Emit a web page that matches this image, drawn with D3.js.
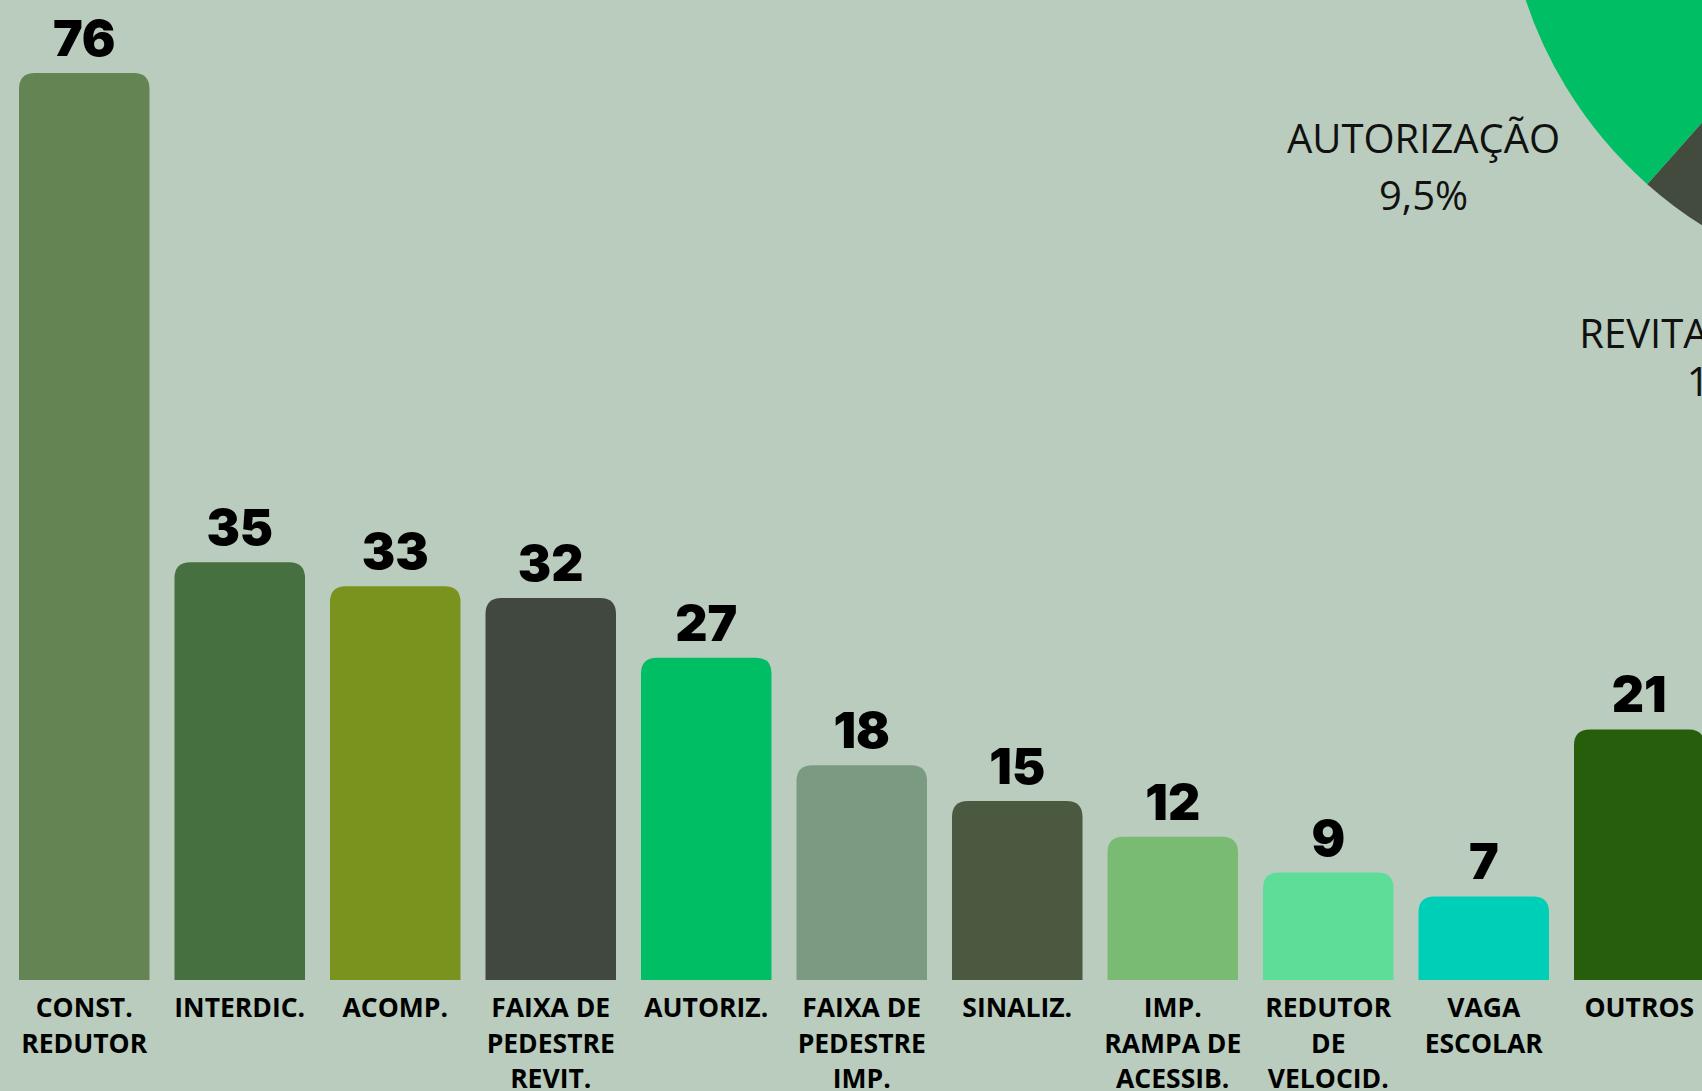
<!DOCTYPE html>
<html>
<head>
<meta charset="utf-8">
<script src="https://cdn.jsdelivr.net/npm/d3@7"></script>
<style>
  html, body { margin:0; padding:0; background:#b9ccbd; overflow:hidden; }
  svg { display:block; }
</style>
</head>
<body>
<div id="chart"></div>
<script>
// bar categories, counts and colours
const categories = ["CONST. REDUTOR","INTERDIC.","ACOMP.","FAIXA DE PEDESTRE REVIT.","AUTORIZ.","FAIXA DE PEDESTRE IMP.","SINALIZ.","IMP. RAMPA DE ACESSIB.","REDUTOR DE VELOCID.","VAGA ESCOLAR","OUTROS"];
const labelLines = [["CONST.","REDUTOR"],["INTERDIC."],["ACOMP."],["FAIXA DE","PEDESTRE","REVIT."],["AUTORIZ."],["FAIXA DE","PEDESTRE","IMP."],["SINALIZ."],["IMP.","RAMPA DE","ACESSIB."],["REDUTOR","DE","VELOCID."],["VAGA","ESCOLAR"],["OUTROS"]];
const values = [76, 35, 33, 32, 27, 18, 15, 12, 9, 7, 21];
const colors = ["#648453","#467040","#7a921e","#404840","#00be64","#7a9a82","#4a5940","#7abb74","#5cdd98","#00cfb8","#265e0c"];

// pie (mostly off-canvas, top right): order of slices and the two visible labels
const pieOrder = ["FAIXA DE PEDESTRE REVIT.","AUTORIZ.","CONST. REDUTOR","INTERDIC.","ACOMP.","FAIXA DE PEDESTRE IMP.","SINALIZ.","IMP. RAMPA DE ACESSIB.","REDUTOR DE VELOCID.","VAGA ESCOLAR","OUTROS"];
const pieLabels = { "AUTORIZ.":"AUTORIZAÇÃO", "FAIXA DE PEDESTRE REVIT.":"REVITALIZAÇÃO" };

const W = 1702, H = 1091;
const baseY = 980;

const svg = d3.select("#chart").append("svg").attr("width", W).attr("height", H);
svg.append("rect").attr("width", W).attr("height", H).attr("fill", "#b9ccbd");

// ---- pie ----
const total = d3.sum(values);
const byCat = new Map(categories.map((c,i)=>[c,{value:values[i], color:colors[i]}]));
const a0 = 181.1 * Math.PI/180;
const pie = d3.pie().sort(null).value(d=>byCat.get(d).value).startAngle(a0).endAngle(a0 + 2*Math.PI);
const arcs = pie(pieOrder);
const R = 425;
const arc = d3.arc().innerRadius(0).outerRadius(R);
const gp = svg.append("g").attr("transform", "translate(1929,-134)");
gp.selectAll("path").data(arcs).enter().append("path")
  .attr("d", arc)
  .attr("fill", d=>d.data === "FAIXA DE PEDESTRE REVIT." ? "#434a3e" : byCat.get(d.data).color);

// labels sit outside the pie; radius / nudges tuned by eye per label
const labelCfg = {
  "AUTORIZ.":                 { r:590, dx1:-2, dx2:-2, dy1:-21, gap:57 },
  "FAIXA DE PEDESTRE REVIT.": { r:540, dx1:-8, dx2:10, dy1:-21, gap:48 }
};
const pct = v => (v/total*100).toFixed(1).replace(".", ",") + "%";
arcs.filter(d=>pieLabels[d.data]).forEach(d=>{
  const cfg = labelCfg[d.data];
  const la = d3.arc().innerRadius(cfg.r).outerRadius(cfg.r);
  const [cx, cy] = la.centroid(d);
  const t = gp.append("text")
    .attr("text-anchor","middle")
    .attr("font-family","'Open Sans', sans-serif")
    .attr("font-size", 40)
    .attr("fill","#111");
  t.append("tspan").attr("x", cx + cfg.dx1).attr("y", cy + cfg.dy1).text(pieLabels[d.data]);
  t.append("tspan").attr("x", cx + cfg.dx2).attr("y", cy + cfg.dy1 + cfg.gap).text(pct(byCat.get(d.data).value));
});

// ---- bars ----
const x = d3.scaleBand().domain(categories).range([6.5, 6.5 + 11*155.5])
  .paddingInner(25/155.5).paddingOuter(12.5/155.5);
const y = d3.scaleLinear().domain([0, 76]).range([baseY, 73]);

function topRounded(x0, y0, w, h, r){
  r = Math.min(r, h, w/2);
  return `M${x0},${y0+h}V${y0+r}Q${x0},${y0} ${x0+r},${y0}H${x0+w-r}Q${x0+w},${y0} ${x0+w},${y0+r}V${y0+h}Z`;
}

const g = svg.append("g");
g.selectAll("path.bar").data(categories).enter().append("path")
  .attr("class","bar")
  .attr("d", (c,i)=> topRounded(x(c), y(values[i]), x.bandwidth(), baseY - y(values[i]), 16))
  .attr("fill", (c,i)=>colors[i]);

// big numbers on top
g.selectAll("text.val").data(categories).enter().append("text")
  .attr("class","val")
  .attr("x", c=> x(c) + x.bandwidth()/2)
  .attr("y", (c,i)=> y(values[i]) - 17)
  .attr("text-anchor","middle")
  .attr("font-family","Inter, 'Noto Sans', sans-serif")
  .attr("font-weight", 900)
  .attr("font-size", 50)
  .attr("fill","#000")
  .text((c,i)=>values[i]);

// category names under the bars
const cl = g.selectAll("text.cat").data(categories).enter().append("text")
  .attr("class","cat")
  .attr("text-anchor","middle")
  .attr("font-family","'Open Sans', sans-serif")
  .attr("font-weight", 700)
  .attr("font-size", 26.5)
  .attr("fill","#000");
cl.each(function(c,i){
  const t = d3.select(this);
  labelLines[i].forEach((ln,j)=>{
    t.append("tspan").attr("x", x(c) + x.bandwidth()/2).attr("y", 1017 + j*35.5).text(ln);
  });
});
</script>
</body>
</html>
